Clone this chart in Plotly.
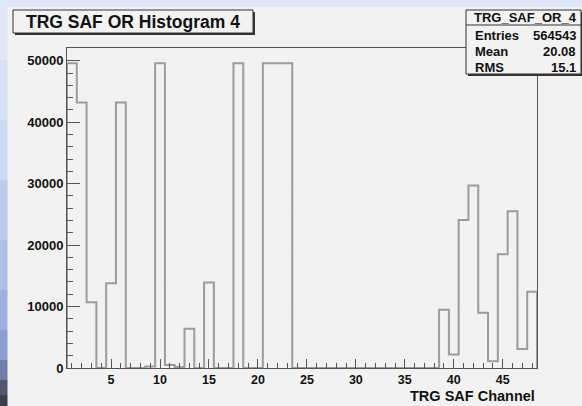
import plotly.graph_objects as go

# ---- data ----
channels = list(range(1, 49))
counts = [49600, 43200, 10700, 0, 13800, 43200, 0, 0, 250, 49600,
          500, 150, 6400, 0, 13900, 0, 0, 49600, 0, 0,
          49600, 49600, 49600, 0, 0, 0, 0, 0, 0, 0,
          0, 0, 0, 0, 0, 0, 0, 0, 9500, 2200,
          24100, 29700, 9000, 1100, 18500, 25500, 3100, 12400]
x_ticks = [5, 10, 15, 20, 25, 30, 35, 40, 45]
y_ticks = [0, 10000, 20000, 30000, 40000, 50000]
y_tick_labels = ["0", "10000", "20000", "30000", "40000", "50000"]
title_text = "TRG SAF OR Histogram 4"
x_title = "TRG SAF Channel"
stats_name = "TRG_SAF_OR_4"
stats_labels = ["Entries", "Mean", "RMS"]
stats_values = ["564543", "20.08", "15.1"]

# histogram step outline from bin edges
edges = [c - 0.5 for c in channels] + [channels[-1] + 0.5]
xs = [edges[0]] + edges
ys = [0] + counts + [0]
ymax = max(counts) * 1.05

W, H = 582, 406
L, R, T, B = 67, 537, 48, 368


def px(x):
    return (x - L) / (R - L)


def py(y):
    return (B - y) / (B - T)


BG = "#f2f2f2"
FONT = "Liberation Sans"
AX = "#555555"

fig = go.Figure()
fig.add_trace(go.Scatter(x=xs, y=ys, mode="lines", line_shape="hv",
                         line=dict(color="#9c9c9c", width=2),
                         hoverinfo="skip", showlegend=False))

shapes = []
# desktop strips (screenshot artefacts)
shapes.append(dict(type="rect", xref="paper", yref="paper", x0=px(0), x1=px(W), y0=py(0), y1=py(7),
                   fillcolor="#dde6f8", line=dict(width=0), layer="below"))
strip_cols = [(0, 60, "#dfe8f8"), (60, 120, "#d8e2f6"), (120, 180, "#ccd9f3"), (180, 240, "#bccbee"),
              (240, 290, "#aebfe8"), (290, 330, "#9db1e0"), (330, 360, "#8a9fd2"), (360, 380, "#6d7fa8"),
              (380, 395, "#4f5870"), (395, 406, "#3a3f4c")]
for a, b, c in strip_cols:
    shapes.append(dict(type="rect", xref="paper", yref="paper", x0=px(0), x1=px(7.5), y0=py(a), y1=py(b),
                       fillcolor=c, line=dict(width=0), layer="below"))

# title box with shadow
shapes.append(dict(type="rect", xref="paper", yref="paper", x0=px(15), x1=px(255), y0=py(12), y1=py(35),
                   fillcolor="#333333", line=dict(width=0)))
shapes.append(dict(type="rect", xref="paper", yref="paper", x0=px(13), x1=px(253), y0=py(10), y1=py(33),
                   fillcolor=BG, line=dict(color="#333333", width=1)))
# stats box with shadow
shapes.append(dict(type="rect", xref="paper", yref="paper", x0=px(468), x1=px(583), y0=py(12), y1=py(76),
                   fillcolor="#333333", line=dict(width=0)))
shapes.append(dict(type="rect", xref="paper", yref="paper", x0=px(466), x1=px(581), y0=py(10), y1=py(74),
                   fillcolor=BG, line=dict(color="#333333", width=1)))
shapes.append(dict(type="line", xref="paper", yref="paper", x0=px(466), x1=px(581), y0=py(25), y1=py(25),
                   line=dict(color="#333333", width=1)))

annotations = []
annotations.append(dict(text=title_text, xref="paper", yref="paper", x=px(133), y=py(21.5),
                        xanchor="center", yanchor="middle", showarrow=False,
                        font=dict(family=FONT, size=17.5, color="#111111", weight="bold")))
annotations.append(dict(text=stats_name, xref="paper", yref="paper", x=px(525), y=py(17.5),
                        xanchor="center", yanchor="middle", showarrow=False,
                        font=dict(family=FONT, size=13, color="#111111", weight="bold")))
row_y = [35, 51.5, 67.5]
for lab, val, yy in zip(stats_labels, stats_values, row_y):
    annotations.append(dict(text=lab, xref="paper", yref="paper", x=px(473), y=py(yy),
                            xanchor="left", yanchor="middle", showarrow=False,
                            font=dict(family=FONT, size=13, color="#111111", weight="bold")))
    annotations.append(dict(text=val, xref="paper", yref="paper", x=px(578), y=py(yy),
                            xanchor="right", yanchor="middle", showarrow=False,
                            font=dict(family=FONT, size=13, color="#111111", weight="bold")))
annotations.append(dict(text=x_title, xref="paper", yref="paper", x=1.0, y=py(395.5),
                        xanchor="right", yanchor="middle", showarrow=False,
                        font=dict(family=FONT, size=14.5, color="#111111", weight="bold")))

tickfont = dict(family=FONT, size=13, color="#111111", weight="bold")
fig.update_layout(
    width=W, height=H, autosize=False,
    margin=dict(l=L, r=W - R, t=T, b=H - B, pad=0),
    paper_bgcolor=BG, plot_bgcolor=BG,
    shapes=shapes, annotations=annotations,
    xaxis=dict(range=[edges[0], edges[-1]], tickvals=x_ticks, ticks="inside", ticklen=9,
               tickcolor=AX, tickwidth=1, showgrid=False, zeroline=False,
               showline=True, linecolor=AX, linewidth=1, mirror=True,
               tickfont=dict(family=FONT, size=12.5, color="#111111", weight="bold"),
               minor=dict(dtick=1, tick0=0, ticks="inside", ticklen=5, tickcolor=AX, showgrid=False)),
    yaxis=dict(range=[0, ymax], tickvals=y_ticks, ticktext=y_tick_labels, ticks="inside", ticklen=13,
               tickcolor=AX, tickwidth=1, showgrid=False, zeroline=False,
               showline=True, linecolor=AX, linewidth=1, mirror=True, tickfont=tickfont,
               minor=dict(dtick=2000, tick0=0, ticks="inside", ticklen=6, tickcolor=AX, showgrid=False)),
)

fig.write_html("out.html")
